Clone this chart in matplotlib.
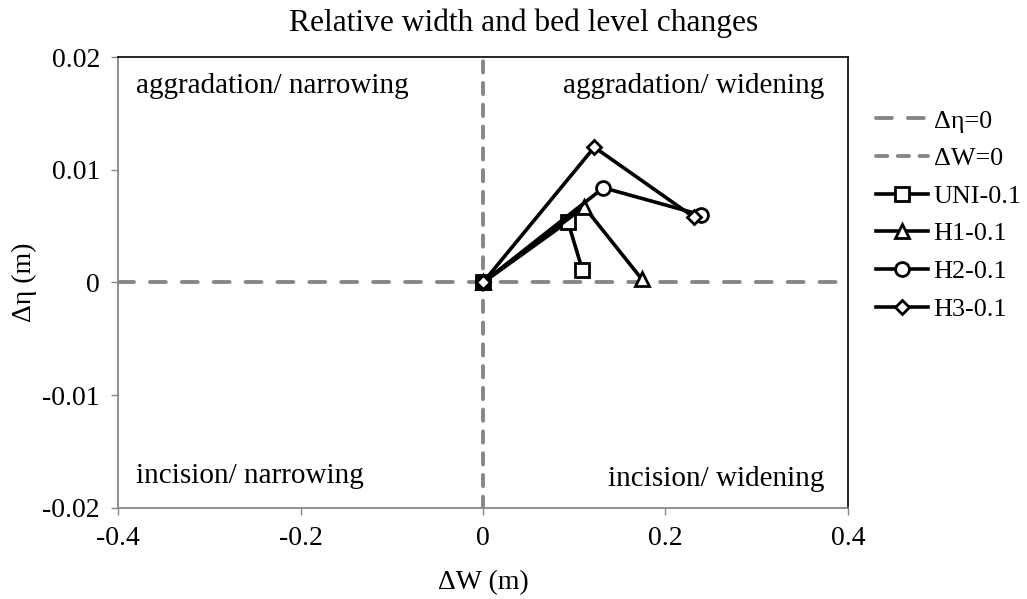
import matplotlib
matplotlib.use("Agg")
import matplotlib.pyplot as plt

plt.rcParams['font.family'] = ['Liberation Serif', 'DejaVu Serif']

# Data
series_names = ["UNI-0.1", "H1-0.1", "H2-0.1", "H3-0.1"]
series_markers = ["s", "^", "o", "D"]
uni_dw = [0.0, 0.093, 0.109]
uni_deta = [0.0, 0.0054, 0.0011]
h1_dw = [0.0, 0.111, 0.174]
h1_deta = [0.0, 0.0067, 0.0003]
h2_dw = [0.0, 0.132, 0.239]
h2_deta = [0.0, 0.0084, 0.0060]
h3_dw = [0.0, 0.122, 0.231]
h3_deta = [0.0, 0.0120, 0.0058]
xticks = [-0.4, -0.2, 0.0, 0.2, 0.4]
xticklabels = ["-0.4", "-0.2", "0", "0.2", "0.4"]
yticks = [-0.02, -0.01, 0.0, 0.01, 0.02]
yticklabels = ["-0.02", "-0.01", "0", "0.01", "0.02"]
quadrant_labels = ["aggradation/ narrowing", "aggradation/ widening",
                   "incision/ narrowing", "incision/ widening"]

FS = 20
QFS = 21
TFS = 22.7
LFS = 18.8
gray = "#878787"

fig = plt.figure(figsize=(10.27, 5.99), dpi=100)
ax = fig.add_axes([0.1149, 0.152, 0.8257 - 0.1149, 0.9048 - 0.152])

ax.set_xlim(-0.4, 0.4)
ax.set_ylim(-0.02, 0.02)

h_eta, = ax.plot([-0.4, 0.4], [0, 0], color=gray, lw=2.8, dashes=(4.1, 4.1),
                 dash_capstyle='round', label="\u0394\u03b7=0", zorder=2)
h_w, = ax.plot([0, 0], [-0.02, 0.02], color=gray, lw=2.8, dashes=(2.9, 2.7),
               dash_capstyle='round', label="\u0394W=0", zorder=2)

data = [(uni_dw, uni_deta), (h1_dw, h1_deta), (h2_dw, h2_deta), (h3_dw, h3_deta)]
handles = [h_eta, h_w]
for (xs, ys), name, mk in zip(data, series_names, series_markers):
    ms = {"s": 9.5, "^": 10, "o": 10, "D": 7.5}[mk]
    h, = ax.plot(xs, ys, color="black", lw=2.6, marker=mk, markersize=ms,
                 markerfacecolor="white", markeredgecolor="black",
                 markeredgewidth=2.0, label=name, zorder=3, clip_on=False)
    handles.append(h)

ax.set_xticks(xticks)
ax.set_xticklabels(xticklabels, fontsize=FS)
ax.set_yticks(yticks)
ax.set_yticklabels(yticklabels, fontsize=FS)
ax.tick_params(direction='out', length=5, width=1, color=gray, pad=8)

for side in ["left", "bottom"]:
    ax.spines[side].set_color(gray)
    ax.spines[side].set_linewidth(1.3)
for side in ["top", "right"]:
    ax.spines[side].set_color("black")
    ax.spines[side].set_linewidth(1.2)

ax.set_xlabel("\u0394W (m)", fontsize=FS, labelpad=14)
ax.set_ylabel("\u0394\u03b7 (m)", fontsize=FS, labelpad=4)
fig.text(524 / 1027, 1 - 23 / 599, "Relative width and bed level changes",
         fontsize=TFS, ha='center', va='center')

ax.text(0.025, 0.935, quadrant_labels[0], transform=ax.transAxes, fontsize=QFS,
        ha='left', va='center')
ax.text(0.968, 0.935, quadrant_labels[1], transform=ax.transAxes, fontsize=QFS,
        ha='right', va='center')
ax.text(0.025, 0.07, quadrant_labels[2], transform=ax.transAxes, fontsize=QFS,
        ha='left', va='center')
ax.text(0.968, 0.065, quadrant_labels[3], transform=ax.transAxes, fontsize=QFS,
        ha='right', va='center')

fig.legend(handles=handles, loc='upper left', bbox_to_anchor=(0.843, 0.835),
           frameon=False, fontsize=LFS, handlelength=2.0, handletextpad=0.2,
           labelspacing=0.55, borderaxespad=0)

fig.savefig("out.png", dpi=100)
